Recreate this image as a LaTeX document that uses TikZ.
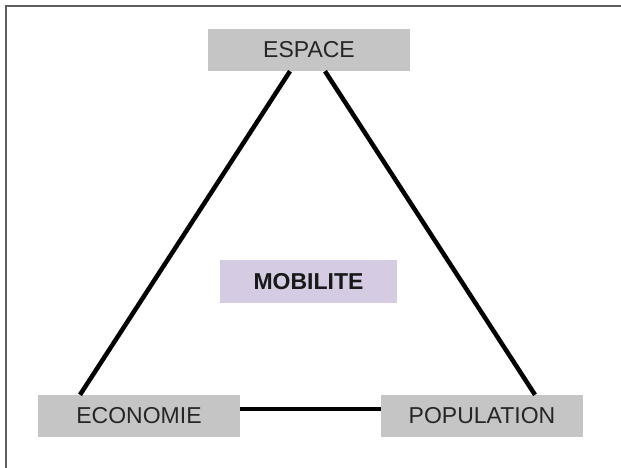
\documentclass[tikz,border=0pt]{standalone}
\usepackage{fontspec}
\setmainfont{Liberation Sans}
\usetikzlibrary{positioning}
\definecolor{boxgrey}{RGB}{196,197,196}
\definecolor{mobpurple}{RGB}{213,204,228}
\definecolor{txtgrey}{RGB}{38,38,38}
\definecolor{framegrey}{RGB}{95,95,95}

\begin{document}
\begin{tikzpicture}[x=1pt, y=-1pt,
pole/.style = {rectangle, fill=boxgrey, minimum width=202pt, minimum height=42pt, inner sep=0pt, text=txtgrey, font=\fontsize{23}{23}\selectfont},
centre/.style = {rectangle, fill=mobpurple, minimum width=177pt, minimum height=43pt, inner sep=0pt, text=black!90, font=\bfseries\fontsize{23}{23}\selectfont},
link/.style = {line width=4.5pt, black}]
\useasboundingbox (0,0) rectangle (621,468);
\draw[framegrey, line width=2pt] (5.5,468) -- (5.5,6.5) -- (621,6.5);
\node[pole] (espace) at (309,50) {ESPACE};
\node[pole] (economie) at (139,416) {ECONOMIE};
\node[pole] (population) at (482,416) {POPULATION};
\node[centre] (mobilite) at (308.5,281.5) {MOBILITE};

\draw[link] ([xshift=-19pt]espace.south) -- ([xshift=-59pt]economie.north);
\draw[link] ([xshift=16pt]espace.south) -- ([xshift=53pt]population.north);
\draw[link] ([yshift=7pt]economie.east) -- ([yshift=7pt]population.west);
\end{tikzpicture}
\end{document}
